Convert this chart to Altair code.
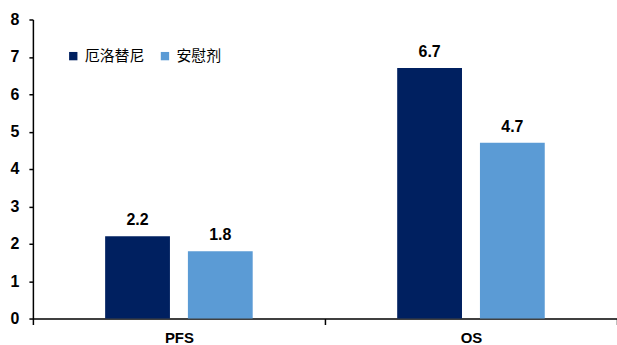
import altair as alt
import pandas as pd

# Median survival (months) by endpoint and arm
endpoints = ["PFS", "OS"]
arms = ["厄洛替尼", "安慰剂"]
erlotinib = [2.2, 6.7]
placebo = [1.8, 4.7]
colors = ["#002060", "#5B9BD5"]

rows = []
for i, ep in enumerate(endpoints):
    rows.append({"endpoint": ep, "arm": arms[0], "value": erlotinib[i]})
    rows.append({"endpoint": ep, "arm": arms[1], "value": placebo[i]})
df = pd.DataFrame(rows)

x = alt.X(
    "endpoint:N",
    sort=endpoints,
    title=None,
    scale=alt.Scale(paddingInner=0, paddingOuter=0),
    axis=alt.Axis(
        labelAngle=0,
        labelFont="Liberation Sans",
        labelFontSize=15,
        labelFontWeight="bold",
        labelColor="#000000",
        labelPadding=6,
        tickBand="extent",
        tickSize=6,
        tickColor="#000000",
        domainColor="#000000",
        domainWidth=1.5,
        tickWidth=1.5,
    ),
)
xo = alt.XOffset(
    "arm:N",
    sort=arms,
    scale=alt.Scale(paddingInner=0.217, paddingOuter=0.873),
)
y = alt.Y(
    "value:Q",
    title=None,
    scale=alt.Scale(domain=[0, 8]),
    axis=alt.Axis(
        values=list(range(0, 9)),
        grid=False,
        labelOverlap=False,
        labelFont="Liberation Sans",
        labelFontSize=16,
        labelFontWeight="bold",
        labelColor="#000000",
        labelPadding=10,
        tickSize=4,
        tickColor="#000000",
        domainColor="#000000",
        domainWidth=1.5,
        tickWidth=1.5,
    ),
)
color = alt.Color(
    "arm:N",
    sort=arms,
    scale=alt.Scale(domain=arms, range=colors),
    legend=alt.Legend(
        title=None,
        orient="none",
        legendX=33,
        legendY=29,
        direction="horizontal",
        columns=2,
        symbolType="square",
        symbolSize=70,
        symbolStrokeWidth=0,
        labelFont="Noto Sans CJK SC",
        labelFontSize=15,
        labelColor="#000000",
        columnPadding=12,
        labelOffset=4,
    ),
)

bars = alt.Chart(df).mark_bar().encode(x=x, xOffset=xo, y=y, color=color)
labels = alt.Chart(df).mark_text(
    dy=-16,
    font="Liberation Sans",
    fontSize=16,
    fontWeight="bold",
    color="#000000",
).encode(
    x=x,
    xOffset=xo,
    y=y,
    text=alt.Text("value:Q", format=".1f"),
)

chart = (
    alt.layer(bars, labels)
    .properties(
        width=586,
        height=300,
        autosize=alt.AutoSizeParams(type="none"),
        padding={"left": 33, "top": 19, "right": 0, "bottom": 26},
        background="#ffffff",
    )
    .configure_view(stroke=None)
)

chart.save("out.html", embed_options={"renderer": "svg", "actions": False})
